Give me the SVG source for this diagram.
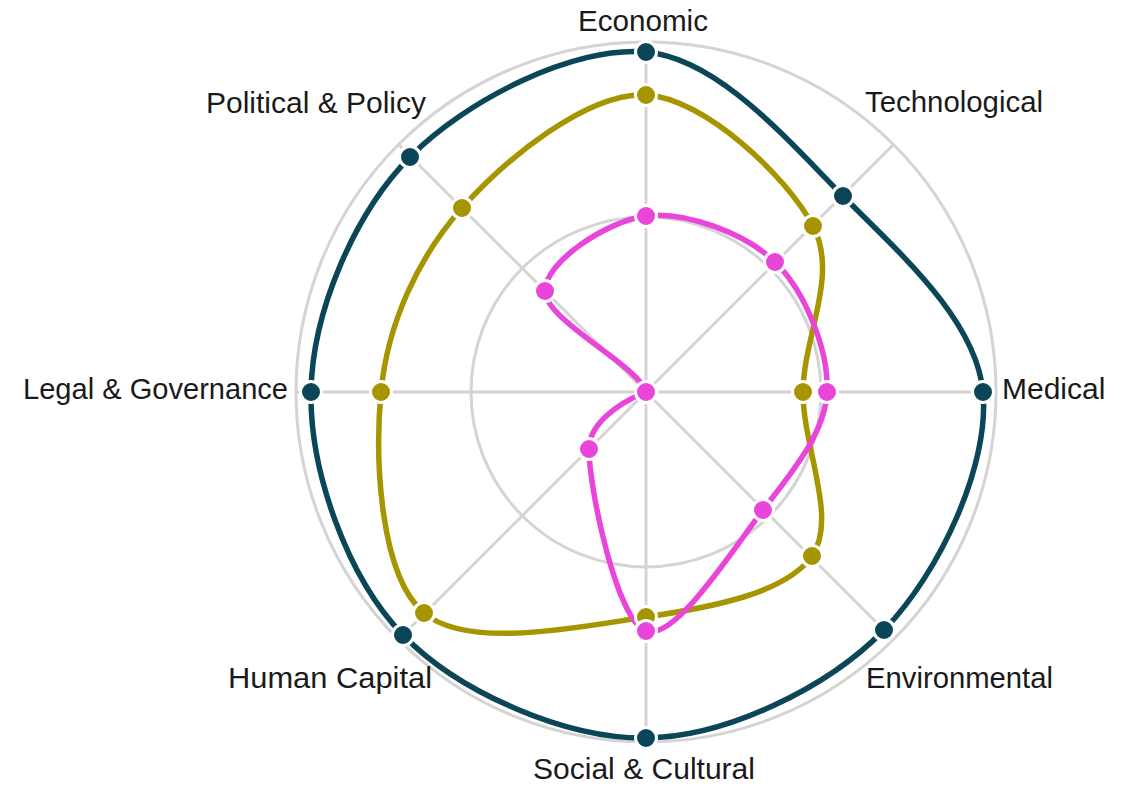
<svg xmlns="http://www.w3.org/2000/svg" width="1128" height="786" viewBox="0 0 1128 786">
<style>
.grid{fill:none;stroke:#d4d4d4;stroke-width:3}
.series{fill:none;stroke-width:5.5;stroke-linejoin:round}
.dot{stroke:#ffffff;stroke-width:3}
.lbl{font-family:"Liberation Sans",Arial,sans-serif;font-size:30px;fill:#1a1a1a}
.s1{stroke:#0b4658}
.s2{stroke:#a69500}
.s3{stroke:#ea45da}
.f1{fill:#0b4658}
.f2{fill:#a69500}
.f3{fill:#ea45da}
</style>
<rect width="1128" height="786" fill="#ffffff"/>
<g id="grid">
<circle class="grid" cx="646" cy="392" r="350"/>
<circle class="grid" cx="646" cy="392" r="175"/>
<line class="grid" x1="646" y1="392" x2="646" y2="42"/>
<line class="grid" x1="646" y1="392" x2="893.5" y2="144.5"/>
<line class="grid" x1="646" y1="392" x2="996" y2="392"/>
<line class="grid" x1="646" y1="392" x2="893.5" y2="639.5"/>
<line class="grid" x1="646" y1="392" x2="646" y2="742"/>
<line class="grid" x1="646" y1="392" x2="398.5" y2="639.5"/>
<line class="grid" x1="646" y1="392" x2="296" y2="392"/>
<line class="grid" x1="646" y1="392" x2="398.5" y2="144.5"/>
</g>
<g id="connectors">
<path id="series-dark" class="series s1" d="M646,52 C718.2,58.5 786.8,139.3 843,196 C899.2,252.7 976.2,319.7 983,392 C989.8,464.3 940.2,572.3 884,630 C827.8,687.7 726.2,737.2 646,738 C565.8,738.8 458.8,692.7 403,635 C347.2,577.3 309.8,471.7 311,392 C312.2,312.3 354.2,213.7 410,157 C465.8,100.3 573.8,45.5 646,52 Z"/>
<path id="series-olive" class="series s2" d="M646,95 C704.5,98 786.8,176.5 813,226 C839.2,275.5 803.2,337 803,392 C802.8,447 838.2,518.5 812,556 C785.8,593.5 710.7,607.5 646,617 C581.3,626.5 468.2,650.5 424,613 C379.8,575.5 374.7,459.5 381,392 C387.3,324.5 417.8,257.5 462,208 C506.2,158.5 587.5,92 646,95 Z"/>
<path id="series-magenta" class="series s3" d="M646,216 C684.3,211.2 744.8,232.7 775,262 C805.2,291.3 829,350.7 827,392 C825,433.3 793.2,470.2 763,510 C732.8,549.8 675,641.2 646,631 C617,620.8 589,488.8 589,449 C589,425 616,404 646,392 C638.7,365.7 545,320.3 545,291 C545,261.7 607.7,220.8 646,216 Z"/>
</g>
<g id="node-dark-points">
<circle class="dot f1" cx="646" cy="52" r="10.5"/>
<circle class="dot f1" cx="843" cy="196" r="10.5"/>
<circle class="dot f1" cx="983" cy="392" r="10.5"/>
<circle class="dot f1" cx="884" cy="630" r="10.5"/>
<circle class="dot f1" cx="646" cy="738" r="10.5"/>
<circle class="dot f1" cx="403" cy="635" r="10.5"/>
<circle class="dot f1" cx="311" cy="392" r="10.5"/>
<circle class="dot f1" cx="410" cy="157" r="10.5"/>
</g>
<g id="node-olive-points">
<circle class="dot f2" cx="646" cy="95" r="10.5"/>
<circle class="dot f2" cx="813" cy="226" r="10.5"/>
<circle class="dot f2" cx="803" cy="392" r="10.5"/>
<circle class="dot f2" cx="812" cy="556" r="10.5"/>
<circle class="dot f2" cx="646" cy="617" r="10.5"/>
<circle class="dot f2" cx="424" cy="613" r="10.5"/>
<circle class="dot f2" cx="381" cy="392" r="10.5"/>
<circle class="dot f2" cx="462" cy="208" r="10.5"/>
</g>
<g id="node-magenta-points">
<circle class="dot f3" cx="646" cy="216" r="10.5"/>
<circle class="dot f3" cx="775" cy="262" r="10.5"/>
<circle class="dot f3" cx="827" cy="392" r="10.5"/>
<circle class="dot f3" cx="763" cy="510" r="10.5"/>
<circle class="dot f3" cx="646" cy="631" r="10.5"/>
<circle class="dot f3" cx="589" cy="449" r="10.5"/>
<circle class="dot f3" cx="646" cy="392" r="10.5"/>
<circle class="dot f3" cx="545" cy="291" r="10.5"/>
</g>
<g id="node-labels">
<text class="lbl" x="643" y="31" text-anchor="middle" textLength="130" lengthAdjust="spacingAndGlyphs">Economic</text>
<text class="lbl" x="865" y="112" textLength="178" lengthAdjust="spacingAndGlyphs">Technological</text>
<text class="lbl" x="1002" y="399">Medical</text>
<text class="lbl" x="866" y="688" textLength="187" lengthAdjust="spacingAndGlyphs">Environmental</text>
<text class="lbl" x="644" y="779" text-anchor="middle" textLength="222" lengthAdjust="spacingAndGlyphs">Social &amp; Cultural</text>
<text class="lbl" x="432" y="688" text-anchor="end" textLength="204" lengthAdjust="spacingAndGlyphs">Human Capital</text>
<text class="lbl" x="288" y="399" text-anchor="end" textLength="265" lengthAdjust="spacingAndGlyphs">Legal &amp; Governance</text>
<text class="lbl" x="426" y="113" text-anchor="end" textLength="220" lengthAdjust="spacingAndGlyphs">Political &amp; Policy</text>
</g>
</svg>
